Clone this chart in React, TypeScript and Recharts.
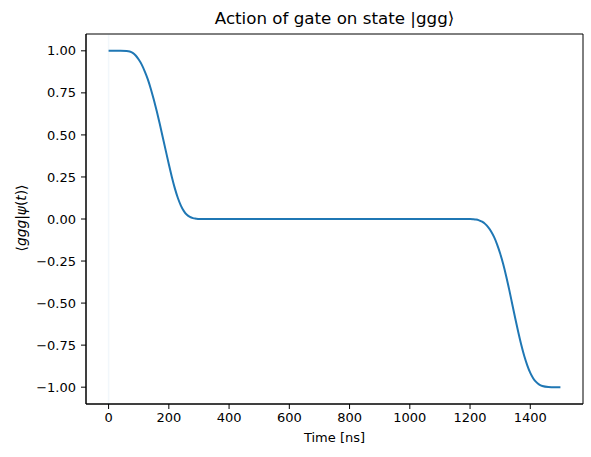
import {
  LineChart,
  Line,
  XAxis,
  YAxis,
  ReferenceLine,
  ReferenceArea,
} from 'recharts';

// time samples [ns] and the overlap <ggg|psi(t)>
const times = [
  0, 20, 40, 60, 70, 80, 90, 100, 110, 120, 130, 140, 150, 160, 170, 180, 190, 200,
  210, 220, 230, 240, 250, 260, 270, 280, 290, 300, 400, 600, 800, 1000, 1150, 1200,
  1210, 1220, 1230, 1240, 1250, 1260, 1270, 1280, 1290, 1300, 1310, 1320, 1330, 1340,
  1350, 1360, 1370, 1380, 1390, 1400, 1410, 1420, 1430, 1440, 1460, 1480, 1500,
];
const overlap = [
  1.0, 1.0, 1.0, 0.999, 0.996, 0.988, 0.972, 0.948, 0.918, 0.878, 0.832, 0.775, 0.71,
  0.64, 0.565, 0.485, 0.405, 0.325, 0.25, 0.182, 0.125, 0.08, 0.047, 0.025, 0.012,
  0.005, 0.002, 0.0, 0.0, 0.0, 0.0, 0.0, 0.0, 0.0,
  -0.001, -0.003, -0.008, -0.016, -0.029, -0.048, -0.074, -0.108, -0.152, -0.205,
  -0.268, -0.34, -0.42, -0.505, -0.59, -0.672, -0.748, -0.815, -0.87, -0.915, -0.948,
  -0.97, -0.985, -0.993, -0.999, -1.0, -1.0,
];

const xTicks = [0, 200, 400, 600, 800, 1000, 1200, 1400];
const yTicks = [-1, -0.75, -0.5, -0.25, 0, 0.25, 0.5, 0.75, 1];
const xDomain: [number, number] = [-75, 1575];
const yDomain: [number, number] = [-1.1, 1.1];

const data = times.map((t, i) => ({ t, v: overlap[i] }));

const FONT = '"DejaVu Sans", sans-serif';
const BLUE = '#1f77b4';

const fmtY = (v: number) => v.toFixed(2).replace('-', '\u2212');

export default function App() {
  return (
    <div style={{ position: 'absolute', left: 0, top: 0, width: 591, height: 457, background: '#fff', fontFamily: FONT }}>
      <LineChart
        width={591}
        height={457}
        data={data}
        margin={{ top: 34, right: 8, bottom: 23, left: 26 }}
      >
        <XAxis
          dataKey="t"
          type="number"
          domain={xDomain}
          ticks={xTicks}
          height={30}
          allowDataOverflow
          tick={{ fill: '#000', fontSize: 13, fontFamily: FONT }}
          tickSize={5}
          tickMargin={4}
          axisLine={{ stroke: '#000', strokeWidth: 1 }}
          tickLine={{ stroke: '#000' }}
        />
        <YAxis
          type="number"
          domain={yDomain}
          ticks={yTicks}
          width={60}
          allowDataOverflow
          tickFormatter={fmtY}
          tick={{ fill: '#000', fontSize: 13, fontFamily: FONT }}
          tickSize={5}
          tickMargin={5}
          axisLine={{ stroke: '#000', strokeWidth: 1 }}
          tickLine={{ stroke: '#000' }}
        />
        <ReferenceArea
          x1={xDomain[0]}
          x2={xDomain[1]}
          y1={yDomain[0]}
          y2={yDomain[1]}
          fill="none"
          stroke="#000"
          strokeWidth={1}
          ifOverflow="extendDomain"
        />
        <ReferenceLine x={0} stroke={BLUE} strokeOpacity={0.06} strokeWidth={1.5} />
        <Line
          type="monotone"
          dataKey="v"
          stroke={BLUE}
          strokeWidth={2}
          dot={false}
          activeDot={false}
          isAnimationActive={false}
        />
      </LineChart>
      <div style={{ position: 'absolute', left: 86, width: 497, top: 8, textAlign: 'center', fontSize: 16.7, lineHeight: '20px' }}>
        Action of gate on state |ggg⟩
      </div>
      <div style={{ position: 'absolute', left: 86, width: 497, top: 430, textAlign: 'center', fontSize: 13, lineHeight: '16px' }}>
        Time [ns]
      </div>
      <div
        style={{
          position: 'absolute',
          left: 21,
          top: 218,
          transform: 'translate(-50%, -50%) rotate(-90deg)',
          whiteSpace: 'nowrap',
          fontSize: 13.8,
          lineHeight: '16px',
        }}
      >
        ⟨<i>ggg</i>|<i>ψ</i>(<i>t</i>)⟩
      </div>
    </div>
  );
}
